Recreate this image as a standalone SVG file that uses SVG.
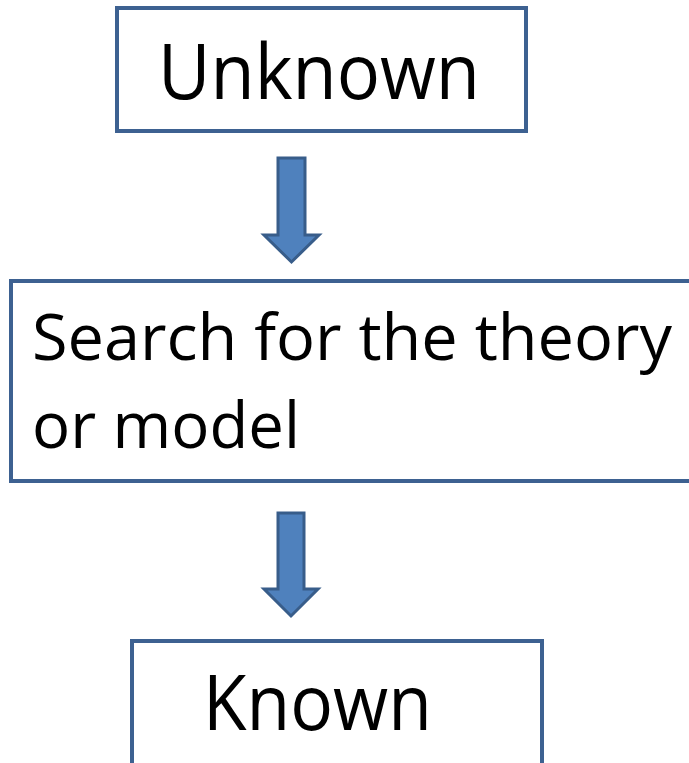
<svg xmlns="http://www.w3.org/2000/svg" width="689" height="763" viewBox="0 0 689 763">
<style>
.box{fill:#fff;stroke:#3d6191;stroke-width:4}
.arrow{fill:#4f81bd;stroke:#385d8a;stroke-width:3;stroke-linejoin:miter}
.t{font-family:"Open Sans","Noto Sans",sans-serif;fill:#000}
</style>
<rect width="689" height="763" fill="#fff"/>
<g id="unknown">
<rect class="box" x="117" y="8" width="409" height="123"/>
<text class="t" x="158" y="99" font-size="77" textLength="322" lengthAdjust="spacingAndGlyphs">Unknown</text>
</g>
<g id="search">
<rect class="box" x="11" y="281" width="690" height="200"/>
<text class="t" x="32" y="360" font-size="64" textLength="640" lengthAdjust="spacingAndGlyphs">Search for the theory</text>
<text class="t" x="32" y="448" font-size="64" textLength="268" lengthAdjust="spacingAndGlyphs">or model</text>
</g>
<g id="known">
<rect class="box" x="132" y="641" width="410" height="140"/>
<text class="t" x="203" y="730" font-size="77" textLength="229" lengthAdjust="spacingAndGlyphs">Known</text>
</g>
<g id="connectors">
<path class="arrow" d="M278,158 H305 V235 H319 L291.5,262 L264,235 H278 Z"/>
<path class="arrow" d="M278,513 H304 V589 H318 L291,616 L264,589 H278 Z"/>
</g>
</svg>
